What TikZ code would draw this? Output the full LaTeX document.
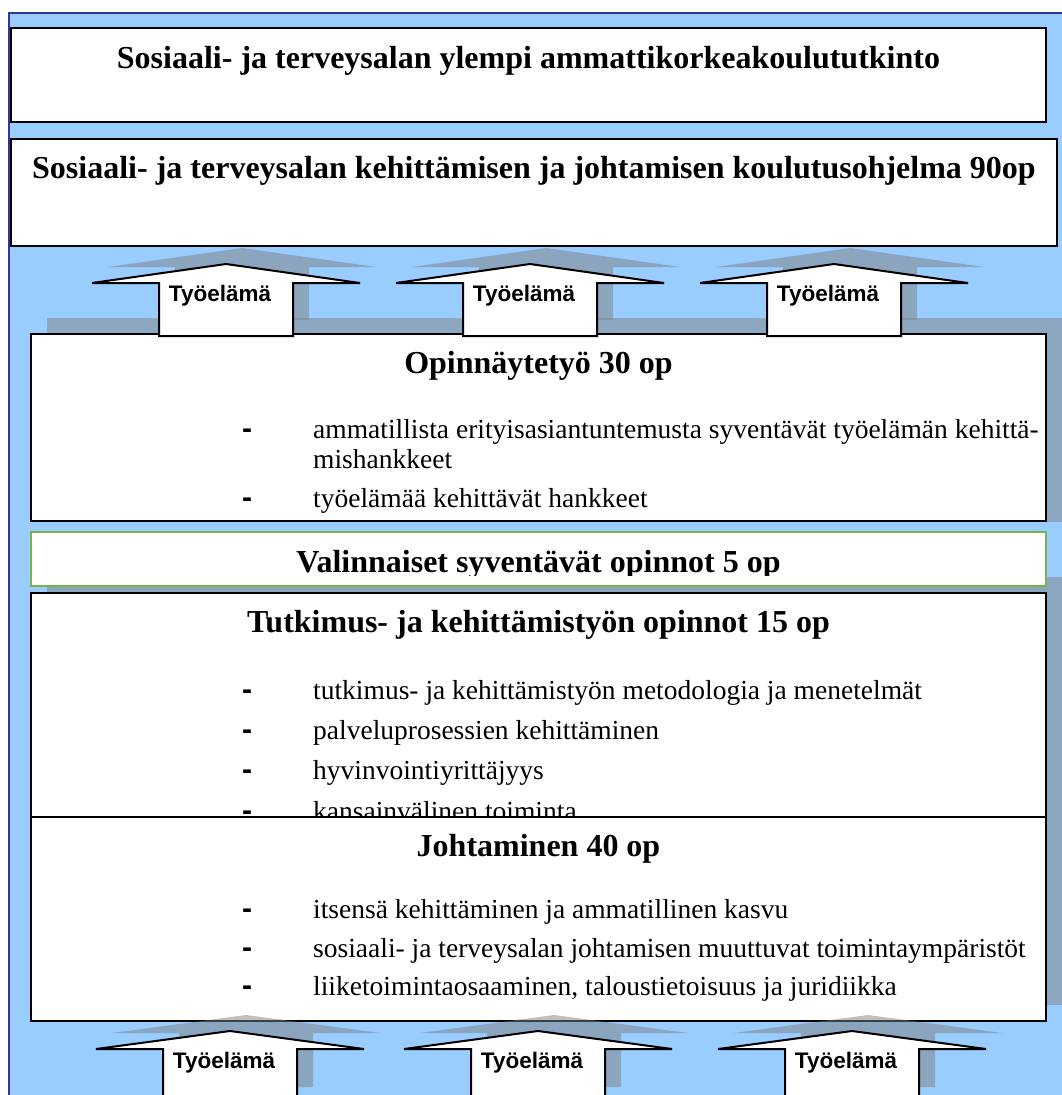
\documentclass[tikz,border=0pt]{standalone}
\usepackage{fontspec}
\setmainfont{Liberation Serif}
\newfontfamily\arialfont{Liberation Sans}
\definecolor{bgblue}{RGB}{153,204,255}
\definecolor{framec}{RGB}{51,51,153}
\definecolor{shadowc}{RGB}{140,166,191}
\definecolor{greenc}{RGB}{122,180,72}
\tikzset{
  box/.style={draw=black, line width=2pt, fill=white},
  greenbox/.style={draw=greenc, line width=2pt, fill=white},
  boxshadow/.style={fill=shadowc},
  ttl/.style={font=\fontsize{32}{38}\selectfont\bfseries, anchor=base, inner sep=0pt},
  itm/.style={font=\fontsize{27.5}{30}\selectfont, anchor=base west, inner sep=0pt},
  bul/.style={font=\arialfont\bfseries\fontsize{30}{30}\selectfont, anchor=base, inner sep=0pt},
  tyo/.style={font=\arialfont\bfseries\fontsize{22.5}{26}\selectfont, anchor=base, inner sep=0pt},
  arrowshade/.style={fill=black!50, fill opacity=0.5, draw=none},
  arrowbody/.style={draw=black, line width=2pt, fill=white, line join=miter}
}
\begin{document}
\begin{tikzpicture}[x=1pt,y=-1pt]
\useasboundingbox (0,0) rectangle (1062,1095);
\clip (0,0) rectangle (1062,1095);
\fill[white] (0,0) rectangle (1062,1095);
\fill[bgblue] (9,13) rectangle (1070,1100);
\draw[framec, line width=1.5pt] (9,1100) -- (9,13) -- (1070,13);

% top boxes
\draw[box] (11,28) rectangle (1046,122);
\node[ttl] (t1) at (528.5,68) {Sosiaali- ja terveysalan ylempi ammattikorkeakoulututkinto};
\draw[box] (11,139) rectangle (1057,246);
\node[ttl] (t2) at (534,178) {Sosiaali- ja terveysalan kehittämisen ja johtamisen koulutusohjelma 90op};

% Opinnaytetyo
\fill[boxshadow] (47,318) rectangle (1062,522);
\draw[box] (31,334) rectangle (1046,521);
\node[ttl] (o1) at (538.5,373) {Opinnäytetyö 30 op};
\node[bul] (ob1) at (247,438) {-};
\node[itm] (oi1) at (313,438) {ammatillista erityisasiantuntemusta syventävät työelämän kehittä-};
\node[itm] (oi1b) at (313,468) {mishankkeet};
\node[bul] (ob2) at (247,507) {-};
\node[itm] (oi2) at (313,507) {työelämää kehittävät hankkeet};

% shadows of lower boxes
\fill[boxshadow] (47,577) rectangle (1062,801);
\fill[boxshadow] (47,801) rectangle (1062,1005);

% Valinnaiset
\draw[greenbox] (31,532) rectangle (1046,586);
\begin{scope}
\clip (31,532) rectangle (1046,575);
\node[ttl] (v1) at (538.5,572) {Valinnaiset syventävät opinnot 5 op};
\end{scope}

% Tutkimus
\draw[box] (31,593) rectangle (1046,840);
\node[ttl] (k1) at (538.5,632) {Tutkimus- ja kehittämistyön opinnot 15 op};
\node[bul] (kb1) at (247,699) {-};
\node[itm] (ki1) at (313,699) {tutkimus- ja kehittämistyön metodologia ja menetelmät};
\node[bul] (kb2) at (247,739) {-};
\node[itm] (ki2) at (313,739) {palveluprosessien kehittäminen};
\node[bul] (kb3) at (247,779) {-};
\node[itm] (ki3) at (313,779) {hyvinvointiyrittäjyys};
\node[bul] (kb4) at (247,820) {-};
\node[itm] (ki4) at (313,820) {kansainvälinen toiminta};

% Johtaminen
\draw[box] (31,817) rectangle (1046,1021);
\node[ttl] (j1) at (538.5,856) {Johtaminen 40 op};
\node[bul] (jb1) at (247,918) {-};
\node[itm] (ji1) at (313,918) {itsensä kehittäminen ja ammatillinen kasvu};
\node[bul] (jb2) at (247,957) {-};
\node[itm] (ji2) at (313,957) {sosiaali- ja terveysalan johtamisen muuttuvat toimintaympäristöt};
\node[bul] (jb3) at (247,995) {-};
\node[itm] (ji3) at (313,995) {liiketoimintaosaaminen, taloustietoisuus ja juridiikka};

% top arrows
\foreach \c/\nm in {226/ta, 530/tb, 834/tc} {
  \fill[arrowshade] ({\c-134+16},{283-16}) -- ({\c+16},{264-16}) -- ({\c+134+16},{283-16}) -- ({\c+67+16},{283-16}) -- ({\c+67+16},{336-16}) -- ({\c-67+16},{336-16}) -- ({\c-67+16},{283-16}) -- cycle;
}
\foreach \c/\nm in {226/ta, 530/tb, 834/tc} {
  \draw[arrowbody] ({\c-134},283) -- (\c,264) -- ({\c+134},283) -- ({\c+67},283) -- ({\c+67},336) -- ({\c-67},336) -- ({\c-67},283) -- cycle;
  \node[tyo] (\nm) at ({\c-6},301) {Työelämä};
}

% bottom arrows
\foreach \c/\nm in {230/ba, 538/bb, 852/bc} {
  \fill[arrowshade] ({\c-134+16},{1049-16}) -- ({\c+16},{1031-16}) -- ({\c+134+16},{1049-16}) -- ({\c+67+16},{1049-16}) -- ({\c+67+16},{1087}) -- ({\c-67+16},{1087}) -- ({\c-67+16},{1049-16}) -- cycle;
}
\foreach \c/\nm in {230/ba, 538/bb, 852/bc} {
  \draw[arrowbody] ({\c-134},1049) -- (\c,1031) -- ({\c+134},1049) -- ({\c+67},1049) -- ({\c+67},1110) -- ({\c-67},1110) -- ({\c-67},1049) -- cycle;
  \node[tyo] (\nm) at ({\c-6},1068) {Työelämä};
}
\end{tikzpicture}
\end{document}
